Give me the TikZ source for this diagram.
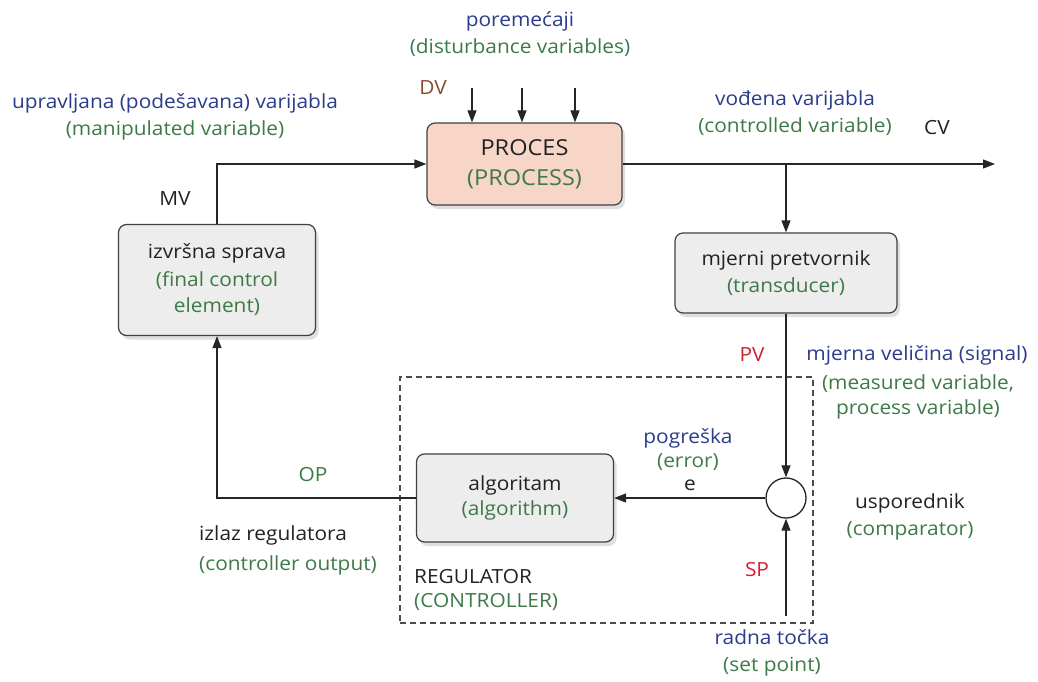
\documentclass[tikz,border=0pt]{standalone}
\usepackage{fontspec}
\setmainfont{Open Sans}[FakeStretch=1.07]
\usetikzlibrary{shadows,arrows.meta}
\definecolor{tblue}{HTML}{2B3C8C}
\definecolor{tgreen}{HTML}{3D7A48}
\definecolor{tred}{HTML}{D0202E}
\definecolor{tbrown}{HTML}{8A4A2C}
\definecolor{tblack}{HTML}{222222}
\definecolor{procfill}{HTML}{F7D6C8}
\definecolor{boxfill}{HTML}{EDEDED}
\tikzset{
  blk/.style={draw=black!75, line width=1.2pt, rounded corners=8pt, align=center,
    text=tblack, inner sep=0pt,
    drop shadow={opacity=0.25, shadow xshift=3pt, shadow yshift=-4pt}},
  arr/.style={draw=black!85, line width=1.2pt, -{Triangle[length=12pt,width=9pt]}},
  lbl/.style={align=center, inner sep=0pt, text=tblack},
  dashbox/.style={draw=black!70, line width=1.1pt, dash pattern=on 6pt off 4pt, inner sep=0pt},
}
\begin{document}
\begin{tikzpicture}[x=1pt,y=-1pt, font=\fontsize{19.5}{27}\selectfont]
\useasboundingbox (0,0) rectangle (1038,682);
% blocks
\node[blk, fill=procfill, minimum width=195pt, minimum height=82pt, font=\fontsize{22}{30}\selectfont] (proc) at (524.5,164) {PROCES\\\textcolor{tgreen}{(PROCESS)}};
\node[blk, fill=boxfill, minimum width=197pt, minimum height=111pt] (izv) at (217,280) {izvršna sprava\\[1pt]\textcolor{tgreen}{(final control}\\[-1pt]\textcolor{tgreen}{element)}};
\node[blk, fill=boxfill, minimum width=222pt, minimum height=80pt] (mj) at (786,273) {mjerni pretvornik\\\textcolor{tgreen}{(transducer)}};
\node[blk, fill=boxfill, minimum width=197pt, minimum height=88pt] (alg) at (515,498) {algoritam\\[-2pt]\textcolor{tgreen}{(algorithm)}};
\node[circle, draw=black!85, line width=1.3pt, fill=white, minimum size=40pt, inner sep=0pt] (cmp) at (786,498) {};
\node[dashbox, minimum width=413pt, minimum height=246pt] (reg) at (606.5,500) {};
% coordinates
\coordinate (d1) at (472,88);
\coordinate (d2) at (522,88);
\coordinate (d3) at (575,88);
\coordinate (cvend) at (995,164);
\coordinate (br) at (786,164);
\coordinate (sp) at (786,616);
% connectors
\draw[arr] (d1) -- (d1 |- proc.north);
\draw[arr] (d2) -- (d2 |- proc.north);
\draw[arr] (d3) -- (d3 |- proc.north);
\draw[arr] (izv.north) |- (proc.west);
\draw[arr] (proc.east) -- (cvend);
\draw[arr] (br) -- (mj.north);
\draw[arr] (mj.south) -- (cmp.north);
\draw[arr] (cmp.west) -- (alg.east);
\draw[arr] (alg.west) -| (izv.south);
\draw[arr] (sp) -- (cmp.south);
% labels
\node[lbl] (dist) at (520,34) {\textcolor{tblue}{poremećaji}\\\textcolor{tgreen}{(disturbance variables)}};
\node[lbl, text=tbrown] (dv) at (433,88) {DV};
\node[lbl] (mvl) at (175,117) {\textcolor{tblue}{upravljana (podešavana) varijabla}\\\textcolor{tgreen}{(manipulated variable)}};
\node[lbl] (mv) at (175,199) {MV};
\node[lbl] (cvl) at (795,113) {\textcolor{tblue}{vođena varijabla}\\\textcolor{tgreen}{(controlled variable)}};
\node[lbl] (cv) at (937,128) {CV};
\node[lbl, text=tred] (pv) at (752,355) {PV};
\node[lbl] (pvl) at (917,355) {\textcolor{tblue}{mjerna veličina (signal)}};
\node[lbl, text=tgreen] (pvl2) at (918,397) {(measured variable,\\[-2pt]process variable)};
\node[lbl] (err) at (688,450) {\textcolor{tblue}{pogreška}\\[-3pt]\textcolor{tgreen}{(error)}};
\node[lbl] (e) at (690,485) {e};
\node[lbl, text=tgreen] (op) at (313,475) {OP};
\node[lbl, align=left, anchor=west] (out) at (199,535) {izlaz regulatora};
\node[lbl, text=tgreen, anchor=west] (out2) at (199,565) {(controller output)};
\node[lbl, align=left, anchor=west] (regl) at (414,590) {REGULATOR\\[-3pt]\textcolor{tgreen}{(CONTROLLER)}};
\node[lbl, text=tred] (spl) at (757,570) {SP};
\node[lbl] (cmpl) at (910,517) {usporednik\\\textcolor{tgreen}{(comparator)}};
\node[lbl] (spt) at (772,653) {\textcolor{tblue}{radna točka}\\\textcolor{tgreen}{(set point)}};
\end{tikzpicture}
\end{document}
